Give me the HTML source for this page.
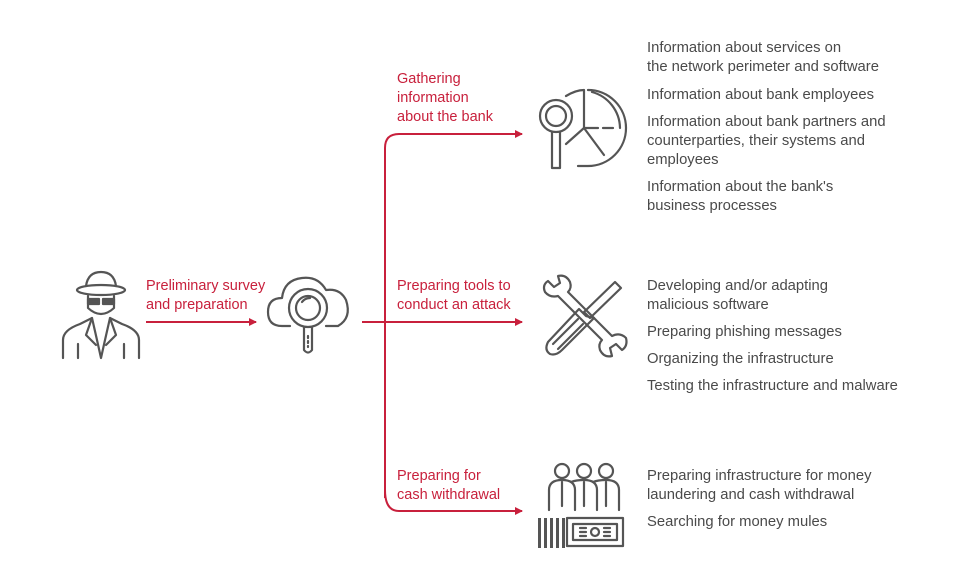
<!DOCTYPE html>
<html><head><meta charset="utf-8"><style>
body{margin:0;background:#fff;width:955px;height:572px;position:relative;overflow:hidden;font-family:"Liberation Sans",sans-serif;}
.t{position:absolute;font-size:14.8px;line-height:19px;color:#4a4a4a;white-space:nowrap;}
.r{color:#c8203c;font-size:14.5px;}
svg{position:absolute;left:0;top:0;}
</style></head><body>
<svg width="955" height="572" viewBox="0 0 955 572">
<defs><marker id="a" markerWidth="8" markerHeight="8" refX="7" refY="4" orient="auto" markerUnits="userSpaceOnUse"><path d="M0,0 L8,4 L0,8 Z" fill="#c8203c"/></marker></defs>
<g stroke="#c8203c" stroke-width="2" fill="none">
<path d="M146,322 H256" marker-end="url(#a)"/>
<path d="M362,322 H522" marker-end="url(#a)"/>
<path d="M385,498 V148 Q385,134 399,134 H522" marker-end="url(#a)"/>
<path d="M385,490 Q385,511 399,511 H522" marker-end="url(#a)"/>
</g>
<g stroke="#555" stroke-width="2.2" fill="none" stroke-linecap="round" stroke-linejoin="round">
<ellipse cx="101" cy="290" rx="24" ry="5"/>
<path d="M86,286 Q88,272 101,272 Q114,272 116,286"/>
<path d="M88,296 V308 Q101,320 114,308 V296"/>
<rect x="88" y="299" width="11" height="5" fill="#555"/><rect x="103" y="299" width="11" height="5" fill="#555"/>
<path d="M63,358 V340 Q63,330 80,324 L92,318 L97,340 L101,358 L105,340 L110,318 L122,324 Q139,330 139,340 V358"/>
<path d="M78,358 V344 M124,358 V344 M92,318 L86,335 L96,345 M110,318 L116,335 L106,345"/>
<path d="M290,326 H282 Q268,326 268,312 Q268,298 282,298 Q284,280 302,278 Q318,276 326,290 Q340,288 346,300 Q352,318 338,326 H326"/>
<circle cx="308" cy="308" r="19"/><circle cx="308" cy="308" r="12"/>
<path d="M302,302 Q305,298 310,298"/>
<path d="M304,327 V350 Q308,355 312,350 V327"/>
<path d="M308,336 V338 M308,341 V343 M308,346 V347"/>
<circle cx="556" cy="116" r="16"/><circle cx="556" cy="116" r="10"/>
<path d="M552,132 V168 H560 V132"/>
<path d="M566,96 Q576,90 584,90 V128 L566,144"/>
<path d="M584,128 H598 M603,128 H613 M584,128 L604,155"/>
<path d="M588,90 A38,38 0 0 1 588,166 M578,166 H588"/>
<path d="M592,92 A38,38 0 0 1 620,128"/>
<path d="M545,292 Q542,285 548,281 L554,287 L560,283 L558,276 Q566,274 570,282 Q572,288 568,292 L612,336 Q620,332 626,338 Q628,346 622,350 L616,344 L610,348 L612,356 Q604,358 600,350 Q598,344 602,340 L558,296 Q550,298 545,292 Z"/>
<path d="M615,282 L621,288 L590,318 L584,312 Z"/>
<path d="M586,316 L579,309 L548,342 Q544,350 550,354 Q556,356 562,350 L594,318 Z"/>
<path d="M553,344 L578,319 M558,349 L583,324"/>
<circle cx="562" cy="471" r="7"/><circle cx="584" cy="471" r="7"/><circle cx="606" cy="471" r="7"/>
<path d="M549,510 V490 Q549,480 562,480 Q575,480 575,490 V510"/>
<path d="M571,482 Q576,480 584,480 Q597,480 597,490 V510"/>
<path d="M593,482 Q598,480 606,480 Q619,480 619,490 V510"/>
<path d="M562,482 V506 M584,482 V506 M606,482 V506"/>
<path d="M567,518 H623 V546 H567 Z"/>
<path d="M573,524 H617 V540 H573 Z"/>
<circle cx="595" cy="532" r="4"/>
<path d="M580,528 H586 M580,532 H586 M580,536 H586 M604,528 H610 M604,532 H610 M604,536 H610"/>
</g>
<g fill="#555"><rect x="538" y="518" width="3" height="30"/><rect x="544" y="518" width="3" height="30"/><rect x="550" y="518" width="3" height="30"/><rect x="556" y="518" width="3" height="30"/><rect x="562" y="518" width="3" height="30"/></g>
</svg>
<div class="t r" style="left:146px;top:277px">Preliminary survey<br>and preparation</div>
<div class="t r" style="left:397px;top:70px">Gathering<br>information<br>about the bank</div>
<div class="t r" style="left:397px;top:277px">Preparing tools to<br>conduct an attack</div>
<div class="t r" style="left:397px;top:467px">Preparing for<br>cash withdrawal</div>
<div class="t" style="left:647px;top:39px">Information about services on<br>the network perimeter and software</div>
<div class="t" style="left:647px;top:86px">Information about bank employees</div>
<div class="t" style="left:647px;top:113px">Information about bank partners and<br>counterparties, their systems and<br>employees</div>
<div class="t" style="left:647px;top:178px">Information about the bank's<br>business processes</div>
<div class="t" style="left:647px;top:277px">Developing and/or adapting<br>malicious software</div>
<div class="t" style="left:647px;top:323px">Preparing phishing messages</div>
<div class="t" style="left:647px;top:350px">Organizing the infrastructure</div>
<div class="t" style="left:647px;top:377px">Testing the infrastructure and malware</div>
<div class="t" style="left:647px;top:467px">Preparing infrastructure for money<br>laundering and cash withdrawal</div>
<div class="t" style="left:647px;top:513px">Searching for money mules</div>
</body></html>
